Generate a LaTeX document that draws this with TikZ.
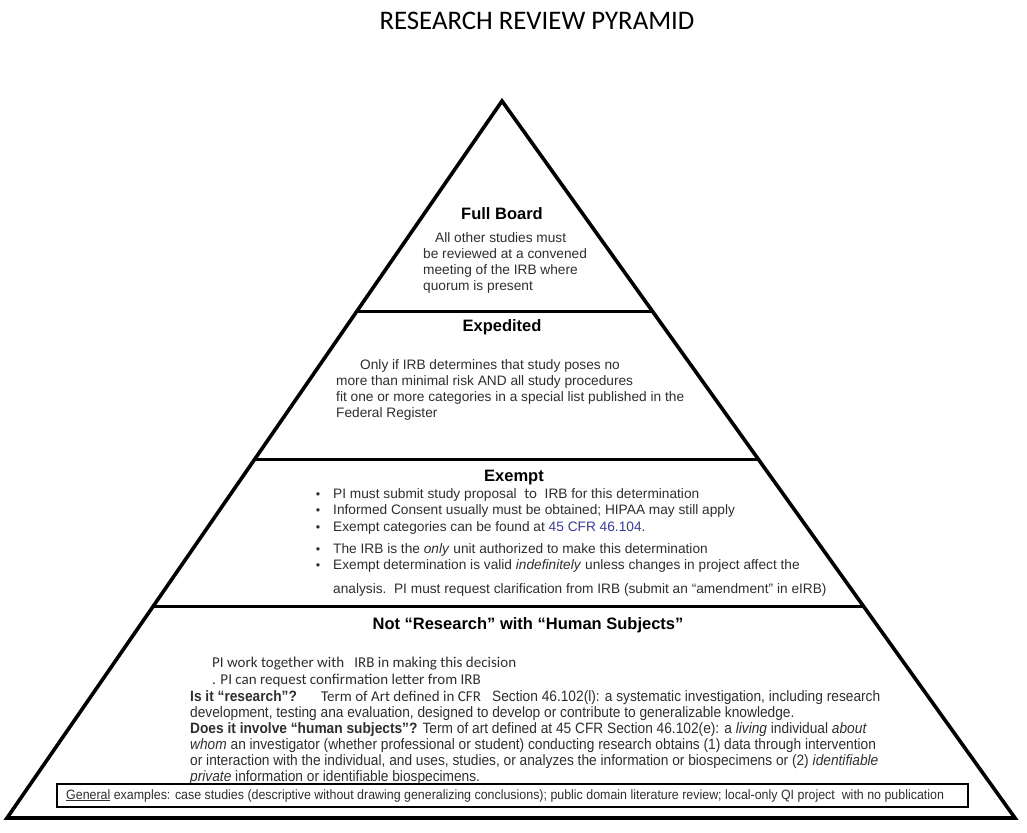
\documentclass[tikz,border=0pt]{standalone}
\usepackage{fontspec}
\setmainfont{Liberation Sans}
\newfontfamily\narrowfont[FakeStretch=0.915]{Liberation Sans}
\newfontfamily\boxfont[FakeStretch=0.92]{Liberation Sans}
\newfontfamily\calfont{Carlito}
\usetikzlibrary{calc}
\definecolor{txt}{gray}{0.18}
\definecolor{cfrblue}{RGB}{60,60,150}
\tikzset{
  edge/.style={line width=3.6pt, line join=miter},
  band/.style={line width=3pt},
  heading/.style={anchor=base, inner sep=0pt, font=\fontsize{16.5}{18}\selectfont\bfseries},
  body/.style={anchor=base west, inner sep=0pt, text=txt, font=\fontsize{13.7}{16}\selectfont},
  narrow/.style={anchor=base west, inner sep=0pt, text=txt, font=\narrowfont\fontsize{15}{16}\selectfont},
  calib/.style={anchor=base west, inner sep=0pt, text=txt, font=\calfont\fontsize{15}{16}\selectfont},
  bul/.style={anchor=base, inner sep=0pt, text=txt, font=\fontsize{12.5}{16}\selectfont},
  genbox/.style={draw, line width=1.6pt}
}
\begin{document}
\begin{tikzpicture}[x=1pt,y=-1pt]
\useasboundingbox (0,0) rectangle (1027,832);
% title
\node[anchor=base, inner sep=0pt, font=\calfont\fontsize{26.8}{28}\selectfont] (title) at (537,30) {RESEARCH REVIEW PYRAMID};
% pyramid
\coordinate (A) at (502,101);
\coordinate (BL) at (7,818);
\coordinate (BR) at (1015,818);
\draw[edge] (A) -- (BR) -- (BL) -- cycle;
\coordinate (L1) at ($(A)!0.2929!(BL)$);
\coordinate (R1) at ($(A)!0.2929!(BR)$);
\coordinate (L2) at ($(A)!0.4993!(BL)$);
\coordinate (R2) at ($(A)!0.4993!(BR)$);
\coordinate (L3) at ($(A)!0.7057!(BL)$);
\coordinate (R3) at ($(A)!0.7057!(BR)$);
\draw[band] (L1) -- (R1);
\draw[band] (L2) -- (R2);
\draw[band] (L3) -- (R3);
% Full Board
\node[heading] (fb) at (502,219) {Full Board};
\node[body] (fb1) at (435,242) {All other studies must};
\node[body] (fb2) at (423,258) {be reviewed at a convened};
\node[body] (fb3) at (423,274) {meeting of the IRB where};
\node[body] (fb4) at (423,290) {quorum is present};
% Expedited
\node[heading] (ex) at (502,331) {Expedited};
\node[body] (ex1) at (360,369) {Only if IRB determines that study poses no};
\node[body] (ex2) at (336,385) {more than minimal risk AND all study procedures};
\node[body] (ex3) at (336,401) {fit one or more categories in a special list published in the};
\node[body] (ex4) at (336,417) {Federal Register};
% Exempt
\node[heading] (em) at (514,481) {Exempt};
\node[bul] (b1) at (318,498) {•};
\node[bul] (b2) at (318,514) {•};
\node[bul] (b3) at (318,531) {•};
\node[bul] (b4) at (318,553) {•};
\node[bul] (b5) at (318,569) {•};
\node[body] (em1) at (333,498) {PI must submit study proposal \ {\calfont\fontsize{15}{16}\selectfont to} \ IRB for this determination};
\node[body] (em2) at (333,514) {Informed Consent usually must be obtained; HIPAA may still apply};
\node[body] (em3) at (333,531) {Exempt categories can be found at \textcolor{cfrblue}{45 CFR 46.104}.};
\node[body] (em4) at (333,553) {The IRB is the \textit{only} unit authorized to make this determination};
\node[body] (em5) at (333,569) {Exempt determination is valid \textit{indefinitely} unless changes in project affect the};
\node[body] (em6) at (333,593) {analysis.\ \ PI must request clarification from IRB (submit an ``amendment'' in eIRB)};
% Not Research
\node[heading] (nr) at (528,629) {Not “Research” with “Human Subjects”};
\node[calib] (nr1) at (212,667) {PI work together with \ \ IRB in making this decision};
\node[calib] (nr2) at (212,684) {. PI can request confirmation letter from IRB};
\node[narrow] (nr3a) at (190,701) {\bfseries Is it “research”?};
\node[calib] (nr3b) at (321,701) {Term of Art defined in CFR};
\node[narrow] (nr3c) at (492,701) {Section 46.102(l): a systematic investigation, including research};
\node[narrow] (nr4) at (190,717) {development, testing ana evaluation, designed to develop or contribute to generalizable knowledge.};
\node[narrow] (nr5) at (190,733) {\textbf{Does it involve “human subjects”?} Term of art defined at 45 CFR Section 46.102(e): a \textit{living} individual \textit{about}};
\node[narrow] (nr6) at (190,749) {\textit{whom} an investigator (whether professional or student) conducting research obtains (1) data through intervention};
\node[narrow] (nr7) at (190,765) {or interaction with the individual, and uses, studies, or analyzes the information or biospecimens or (2) \textit{identifiable}};
\node[narrow] (nr8) at (190,781) {\textit{private} information or identifiable biospecimens.};
% General examples box
\draw[genbox] (57,784) rectangle (968,807);
\node[anchor=base west, inner sep=0pt, text=txt, font=\boxfont\fontsize{13.5}{14}\selectfont] (gen) at (66,799) {\underline{General} examples: case studies (descriptive without drawing generalizing conclusions); public domain literature review; local-only QI project \ with no publication};
\end{tikzpicture}
\end{document}
